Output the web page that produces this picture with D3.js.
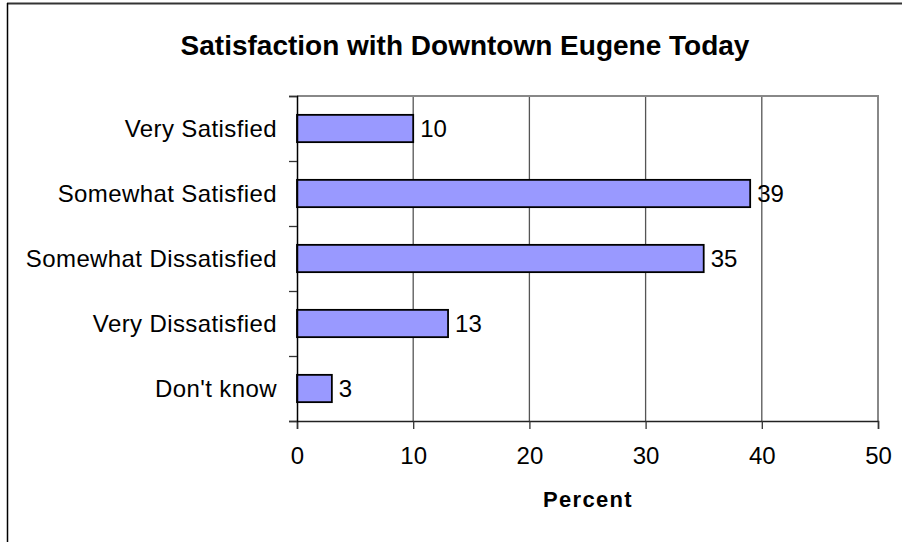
<!DOCTYPE html>
<html lang="en">
  <head>
    <meta charset="utf-8">
    <title>Satisfaction with Downtown Eugene Today</title>
    <script type="text/javascript" src="https://d3js.org/d3.v7.min.js"></script>
    <style>
      body { margin: 0; background: #fff; }
      text { font-family: "Liberation Sans", Arial, sans-serif; fill: #000; }
    </style>
  </head>
  <body>
    <script type="text/javascript">
    var categories = ["Very Satisfied", "Somewhat Satisfied", "Somewhat Dissatisfied", "Very Dissatisfied", "Don't know"];
    var values = [10, 39, 35, 13, 3];
    var xTicks = [0, 10, 20, 30, 40, 50];
    var title = "Satisfaction with Downtown Eugene Today";
    var xLabel = "Percent";

    var w = 902, h = 542;
    var plotLeft = 297, plotRight = 878, plotTop = 96, plotBottom = 421;

    var svg = d3.select("body").append("svg").attr("width", w).attr("height", h);

    // outer chart frame (only top and left show in the picture)
    svg.append("line").attr("x1", 7).attr("x2", w).attr("y1", 3.5).attr("y2", 3.5)
      .attr("stroke", "#333").attr("stroke-width", 2);
    svg.append("line").attr("x1", 7.5).attr("x2", 7.5).attr("y1", 3).attr("y2", h)
      .attr("stroke", "#000").attr("stroke-width", 1.5);

    var xscale = d3.scaleLinear().domain([0, 50]).range([plotLeft, plotRight]);
    var yscale = d3.scaleBand().domain(categories).range([plotTop, plotBottom])
      .paddingInner(0.58).paddingOuter(0.29);
    var yticks = d3.scaleLinear().domain([0, categories.length]).range([plotTop, plotBottom]);

    // gridlines
    svg.append("g").selectAll("line")
      .data(xTicks.slice(1, -1))
      .enter().append("line")
      .attr("x1", d => xscale(d)).attr("x2", d => xscale(d))
      .attr("y1", plotTop).attr("y2", plotBottom)
      .attr("stroke", "#555").attr("stroke-width", 1.3);

    // plot frame top/right
    svg.append("polyline")
      .attr("points", [[plotLeft, plotTop], [plotRight, plotTop], [plotRight, plotBottom]].join(" "))
      .attr("fill", "none").attr("stroke", "#888").attr("stroke-width", 2);

    // bars
    svg.selectAll("rect.bar")
      .data(values)
      .enter().append("rect")
      .attr("class", "bar")
      .attr("x", xscale(0))
      .attr("y", (d, i) => yscale(categories[i]))
      .attr("width", d => xscale(d) - xscale(0))
      .attr("height", yscale.bandwidth())
      .attr("fill", "#9999ff")
      .attr("stroke", "#000")
      .attr("stroke-width", 1.8);

    // value labels
    svg.selectAll("text.val")
      .data(values)
      .enter().append("text")
      .attr("class", "val")
      .attr("x", d => xscale(d) + 7)
      .attr("y", (d, i) => yscale(categories[i]) + yscale.bandwidth() / 2 + 8)
      .attr("font-size", 24)
      .text(d => d);

    // x axis
    var xAxis = d3.axisBottom(xscale).tickValues(xTicks).tickSize(8).tickPadding(18);
    var gx = svg.append("g").attr("transform", "translate(0," + plotBottom + ")").call(xAxis);
    gx.attr("font-size", 24).attr("font-family", "Liberation Sans, Arial, sans-serif");
    gx.select(".domain").attr("stroke", "#222").attr("stroke-width", 1.5);
    gx.selectAll(".tick line").attr("stroke", "#333").attr("stroke-width", 1.3);
    gx.selectAll(".tick text").attr("fill", "#000");

    // y axis: ticks between categories
    var yAxis = d3.axisLeft(yticks).tickValues(d3.range(categories.length + 1))
      .tickSize(8).tickFormat("");
    var gy = svg.append("g").attr("transform", "translate(" + plotLeft + ",0)").call(yAxis);
    gy.select(".domain").attr("stroke", "#000").attr("stroke-width", 1.5);
    gy.selectAll(".tick line").attr("stroke", "#333").attr("stroke-width", 1.3);

    // category labels
    svg.selectAll("text.cat")
      .data(categories)
      .enter().append("text")
      .attr("class", "cat")
      .attr("x", 277)
      .attr("y", d => yscale(d) + yscale.bandwidth() / 2 + 8)
      .attr("text-anchor", "end")
      .attr("font-size", 24)
      .attr("letter-spacing", 0.4)
      .text(d => d);

    // title
    svg.append("text")
      .attr("x", 465).attr("y", 55)
      .attr("text-anchor", "middle")
      .attr("font-size", 28).attr("font-weight", "bold")
      .text(title);

    // x axis title
    svg.append("text")
      .attr("x", 588).attr("y", 507)
      .attr("text-anchor", "middle")
      .attr("font-size", 22).attr("font-weight", "bold")
      .attr("letter-spacing", 1.3)
      .text(xLabel);
    </script>
  </body>
</html>
